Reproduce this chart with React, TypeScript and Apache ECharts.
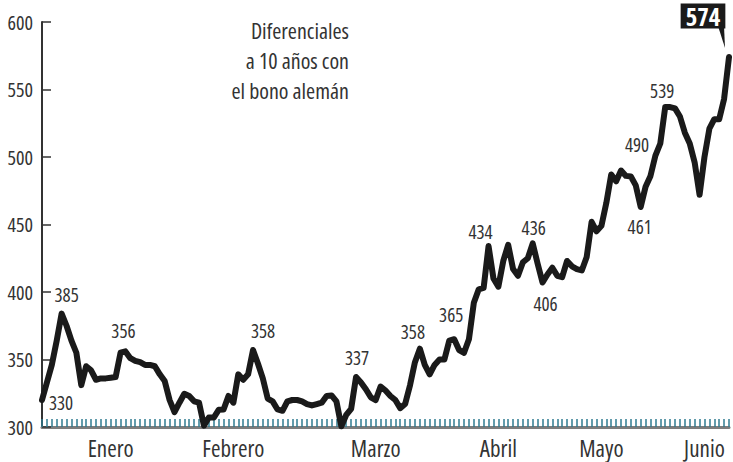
import React, { useEffect, useRef } from "react";
import * as echarts from "echarts";

// Daily spread values (basis points), one per trading day, January to mid-June
const spread: number[] = [
  320, 333, 346, 364, 384, 375, 364, 355, 331, 345,
  342, 335, 336, 336, 336.5, 337, 355, 356, 351, 349,
  348, 346, 346, 345, 339, 334, 320, 311, 318, 324.6,
  323, 319, 318, 301, 307, 307, 312.7, 313, 323, 318,
  339, 335, 339, 357, 347, 336, 321, 319, 313, 312,
  319, 320, 320, 319, 317, 316, 317, 318, 323, 323.4,
  319, 300.5, 309, 313.5, 337, 333, 328, 322, 320, 330,
  327, 323, 320, 314, 317, 331, 348, 358, 346, 339,
  346, 350, 350, 364, 365, 357, 355, 365, 392, 402,
  403, 434, 410, 404, 423, 435, 417, 412, 422, 425,
  436, 421, 407, 413, 418, 412, 411, 423, 419, 417,
  416, 426, 452, 445, 449, 466, 487, 482, 490, 486,
  485.5, 479, 463, 478, 486, 501, 510, 537, 537, 536,
  530, 518, 510, 496, 472, 500, 521, 528, 528, 543,
  574,
];

// Month labels and the day index under which each is centred
const monthLabels: string[] = ["Enero", "Febrero", "Marzo", "Abril", "Mayo", "Junio"];
const monthLabelIndex: number[] = [14, 39, 68, 93, 114, 135];

// Y axis range and tick labels
const yMin = 300;
const yMax = 600;
const yStep = 50;
const yTickLabels: string[] = ["300", "350", "400", "450", "500", "550", "600"];

// Annotated values
const annotationIndex: number[] = [0, 4, 17, 43, 64, 77, 84, 91, 100, 102, 122, 118, 127];
const annotationText: string[] = ["330", "385", "356", "358", "337", "358", "365", "434", "436", "406", "461", "490", "539"];
const annotationOffset: number[][] = [
  [19, 3], [5, -19], [-2, -20], [10, -19], [1, -19], [-7, -17], [-3, -24],
  [-8, -14], [1, -15], [3, 21], [-1, 20], [16, -26], [-3, -16],
];
const lastLabel = "574";

const titleLines: string[] = ["Diferenciales", "a 10 años con", "el bono alemán"];

const COND = (size: number) => `condensed ${size}px 'Open Sans', 'DejaVu Sans Condensed', sans-serif`;
const BOLD_FAMILY = "'Open Sans Condensed', 'DejaVu Sans Condensed', sans-serif";
const TEXT = "#333333";
const GRID_LEFT = 42;

export default function App() {
  const ref = useRef<HTMLDivElement>(null);

  useEffect(() => {
    document.body.style.margin = "0";
    if (!ref.current) return;
    const chart = echarts.init(ref.current, null, { renderer: "svg" });

    const categories = spread.map((_, i) => String(i));
    const last = spread.length - 1;

    const data = spread.map((v, i) => {
      if (i === last) {
        return {
          value: v,
          label: {
            show: true,
            formatter: lastLabel,
            position: "inside",
            offset: [-26, -41],
            backgroundColor: "#1a1a1a",
            color: "#ffffff",
            fontWeight: "bold",
            fontSize: 25,
            fontFamily: BOLD_FAMILY,
            padding: [1, 5, 0, 5],
            lineHeight: 24,
          },
        };
      }
      return v;
    });

    chart.setOption({
      animation: false,
      backgroundColor: "#ffffff",
      grid: { left: GRID_LEFT, right: 4, top: 22, bottom: 35, containLabel: false },
      xAxis: {
        type: "category",
        data: categories,
        boundaryGap: false,
        axisLine: { show: true, lineStyle: { color: "#7d7d7d", width: 3 } },
        axisTick: {
          show: true,
          interval: 0,
          inside: true,
          length: 8,
          lineStyle: { color: "#2f7b90", width: 1.5 },
        },
        axisLabel: { show: false },
        splitLine: { show: false },
      },
      yAxis: {
        type: "value",
        min: yMin,
        max: yMax,
        interval: yStep,
        axisLine: { show: true, lineStyle: { color: "#333333", width: 2 } },
        axisTick: { show: true, inside: true, length: 9, lineStyle: { color: "#333333", width: 1.5 } },
        axisLabel: { show: false },
        splitLine: { show: false },
      },
      series: [
        {
          type: "line",
          data,
          smooth: false,
          symbol: "circle",
          symbolSize: 1,
          showSymbol: true,
          showAllSymbol: true,
          itemStyle: { color: "#1a1a1a" },
          lineStyle: { color: "#1a1a1a", width: 6, join: "round", cap: "round" },
          z: 5,
        },
      ],
    });

    const graphics: any[] = [];

    // Title
    graphics.push({
      type: "text",
      x: 349,
      y: 15,
      z: 20,
      style: {
        text: titleLines.join("\n"),
        align: "right",
        verticalAlign: "top",
        font: COND(22),
        lineHeight: 30,
        fill: TEXT,
      },
    });

    // Y tick labels
    yTickLabels.forEach((t) => {
      const py = chart.convertToPixel({ yAxisIndex: 0 }, Number(t)) as number;
      graphics.push({
        type: "text",
        x: GRID_LEFT - 9,
        y: py,
        z: 20,
        style: { text: t, align: "right", verticalAlign: "middle", font: COND(20), fill: TEXT },
      });
    });

    // Month labels
    monthLabelIndex.forEach((idx, k) => {
      const px = chart.convertToPixel({ xAxisIndex: 0 }, idx) as number;
      graphics.push({
        type: "text",
        x: px,
        y: 448,
        z: 20,
        style: { text: monthLabels[k], align: "center", verticalAlign: "middle", font: COND(23), fill: TEXT },
      });
    });

    // Value annotations
    annotationIndex.forEach((idx, k) => {
      const p = chart.convertToPixel({ seriesIndex: 0 }, [idx, spread[idx]]) as number[];
      graphics.push({
        type: "text",
        x: p[0] + annotationOffset[k][0],
        y: p[1] + annotationOffset[k][1],
        z: 20,
        style: { text: annotationText[k], align: "center", verticalAlign: "middle", font: COND(19), fill: TEXT },
      });
    });

    // Pointer of the last-value callout
    const pl = chart.convertToPixel({ seriesIndex: 0 }, [last, spread[last]]) as number[];
    graphics.push({
      type: "polygon",
      z: 10,
      shape: {
        points: [
          [pl[0] - 11, pl[1] - 31],
          [pl[0] - 5, pl[1] - 31],
          [pl[0] - 4, pl[1] - 9],
        ],
      },
      style: { fill: "#1a1a1a" },
    });

    chart.setOption({ graphic: graphics });

    return () => chart.dispose();
  }, []);

  return <div ref={ref} style={{ width: 733, height: 462 }} />;
}
